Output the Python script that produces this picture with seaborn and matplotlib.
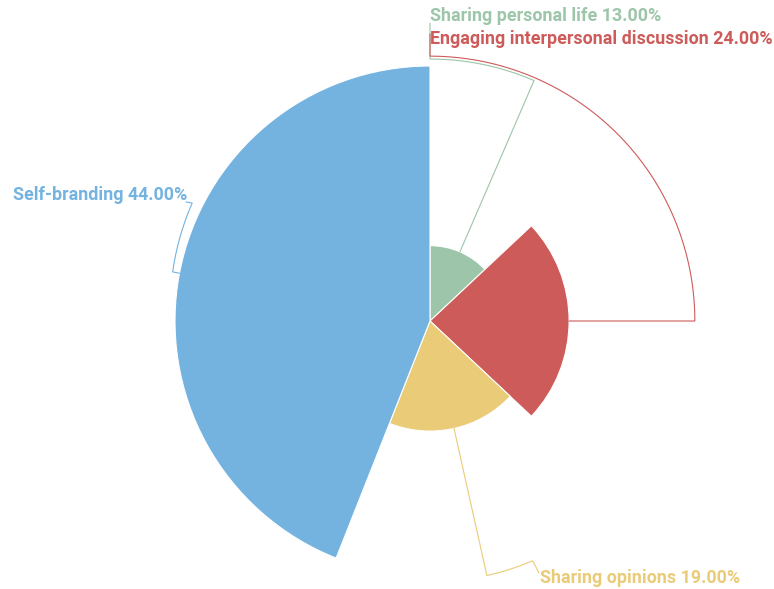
import numpy as np
import matplotlib
matplotlib.use("Agg")
import matplotlib.pyplot as plt
import seaborn as sns

# Share of each motive (percent), clockwise from 12 o'clock
categories = ["Sharing personal life", "Engaging interpersonal discussion",
              "Sharing opinions", "Self-branding"]
values = [13.0, 24.0, 19.0, 44.0]
palette = sns.color_palette(["#9cc5a9", "#cd5b59", "#eacb78", "#74b3e0"])

sns.set_theme(style="white")
plt.rcParams["font.family"] = ["Roboto", "DejaVu Sans"]

W, H = 774, 589
fig = plt.figure(figsize=(W / 100, H / 100), dpi=100)

# Polar axes centred on the chart centre; radius is linear in the value
cx, cy = 430, 321
rmax_val = 50.0
px_per_unit = 255 / max(values)
half = rmax_val * px_per_unit
ax = fig.add_axes([(cx - half) / W, (H - cy - half) / H, 2 * half / W, 2 * half / H],
                  projection="polar")
ax.set_theta_zero_location("N")
ax.set_theta_direction(-1)
ax.set_ylim(0, rmax_val)
ax.set_axis_off()

total = sum(values)
spans = [v / total * 360 for v in values]
starts = np.concatenate([[0], np.cumsum(spans)[:-1]])
mids = starts + np.array(spans) / 2

ax.bar(np.deg2rad(mids), values, width=np.deg2rad(spans), bottom=0,
       color=palette, edgecolor="white", linewidth=0.8, align="center")


def pt(px, py):
    """Pixel position -> (theta, r) in this polar axes."""
    dx, dy = px - cx, cy - py
    return np.arctan2(dx, dy) % (2 * np.pi), np.hypot(dx, dy) / px_per_unit


def leader(i, r_arc, theta_end_deg, end_px, r_arc_end=None):
    th0 = mids[i]
    r_arc_end = r_arc if r_arc_end is None else r_arc_end
    th = np.linspace(th0, theta_end_deg, 60)
    rr = np.linspace(r_arc, r_arc_end, 60)
    t_end, r_end = pt(*end_px)
    thetas = np.concatenate([[np.deg2rad(th0)], np.deg2rad(th), [t_end]])
    radii = np.concatenate([[values[i]], rr, [r_end]])
    ax.plot(thetas, radii, color=palette[i], lw=0.8, clip_on=False,
            solid_joinstyle="miter")


def label(i, px, py, ha):
    t, r = pt(px, py)
    ax.text(t, r, f"{categories[i]} {values[i]:.2f}%", color=palette[i],
            fontsize=12.9, fontweight="bold", ha=ha, va="center", clip_on=False)


# Leader lines: radial out from each slice, along an arc, then to the label
leader(0, 45.2, 0.0, (430, 23))
leader(1, 45.7, 0.0, (430, 34))
leader(2, 45.0, 156.8, (539, 573))
leader(3, 45.2, 296.4, (186, 202), r_arc_end=45.8)

label(0, 430, 16, "left")
label(1, 430, 39, "left")
label(2, 540, 578, "left")
label(3, 187, 195, "right")

fig.savefig("out.png", dpi=100)
